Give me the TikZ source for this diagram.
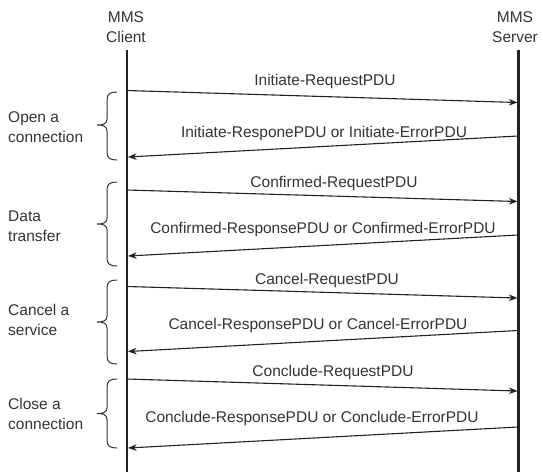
\documentclass[tikz,border=0pt]{standalone}
\usepackage{fontspec}
\setmainfont{Liberation Sans}
\usetikzlibrary{arrows.meta}
\definecolor{txt}{HTML}{333333}
\definecolor{ln}{HTML}{222222}
\newcommand\mybrace[4]{% name, top, tip, bottom
  \coordinate (#1) at (97,#3);
  \draw[brc] (117,#2) .. controls (110,#2) and (107,{#2+2}) .. (107,{#2+8})
    -- (107,{#3-6}) .. controls (107,{#3-1}) and (103,#3) .. (97,#3)
    .. controls (103,#3) and (107,{#3+1}) .. (107,{#3+6})
    -- (107,{#4-8}) .. controls (107,{#4-2}) and (110,#4) .. (117,#4);}
\begin{document}
\begin{tikzpicture}[x=1pt,y=-1pt,
  lbl/.style={text=txt,font=\fontsize{15.5}{20}\selectfont,inner sep=0pt},
  side/.style={lbl,align=left,anchor=west},
  head/.style={lbl,align=center},
  life/.style={draw=ln,line width=2.2pt},
  msg/.style={draw=ln,line width=1.1pt,-{Stealth[length=8.5pt,width=6.5pt,inset=2.5pt]}},
  brc/.style={draw=txt,line width=1pt}]
\useasboundingbox (0,0) rectangle (543,472);

% participants
\node[head] (client) at (126,27.5) {MMS\\Client};
\node[head] (server) at (515,27.5) {MMS\\Server};
\coordinate (ctop) at (127,50);
\coordinate (cbot) at (127,472);
\coordinate (stop) at (518.5,50);
\coordinate (sbot) at (518.5,472);
\draw[life] (ctop) -- (cbot);
\draw[life] (stop) -- (sbot);

% message end points
\coordinate (a1) at (127,90.5);  \coordinate (b1) at (517.5,102.5);
\coordinate (a2) at (518,136);   \coordinate (b2) at (128,157);
\coordinate (a3) at (127,190);   \coordinate (b3) at (517.5,201.5);
\coordinate (a4) at (518,235);   \coordinate (b4) at (128,256);
\coordinate (a5) at (127,286.5); \coordinate (b5) at (517.5,298);
\coordinate (a6) at (518,330.5); \coordinate (b6) at (128,351.5);
\coordinate (a7) at (127,379);   \coordinate (b7) at (517.5,391);
\coordinate (a8) at (518,427);   \coordinate (b8) at (128,448);

\draw[msg] (a1) -- (b1);
\draw[msg] (a2) -- (b2);
\draw[msg] (a3) -- (b3);
\draw[msg] (a4) -- (b4);
\draw[msg] (a5) -- (b5);
\draw[msg] (a6) -- (b6);
\draw[msg] (a7) -- (b7);
\draw[msg] (a8) -- (b8);

% message labels
\node[lbl] (l1) at (325,81) {Initiate-RequestPDU};
\node[lbl] (l2) at (324,133) {Initiate-ResponePDU or Initiate-ErrorPDU};
\node[lbl] (l3) at (334,183) {Confirmed-RequestPDU};
\node[lbl] (l4) at (323,229) {Confirmed-ResponsePDU or Confirmed-ErrorPDU};
\node[lbl] (l5) at (327,280) {Cancel-RequestPDU};
\node[lbl] (l6) at (318,325) {Cancel-ResponsePDU or Cancel-ErrorPDU};
\node[lbl] (l7) at (333,372) {Conclude-RequestPDU};
\node[lbl] (l8) at (312,418) {Conclude-ResponsePDU or Conclude-ErrorPDU};

% braces
\mybrace{br1}{92}{125}{160}
\mybrace{br2}{182}{224}{266}
\mybrace{br3}{280}{322}{364}
\mybrace{br4}{379}{413.5}{448}

% phase labels
\node[side] (p1) at (8,127.5) {Open a\\connection};
\node[side] (p2) at (8,226.5) {Data\\transfer};
\node[side] (p3) at (8,320) {Cancel a\\service};
\node[side] (p4) at (8,413.5) {Close a\\connection};
\end{tikzpicture}
\end{document}
